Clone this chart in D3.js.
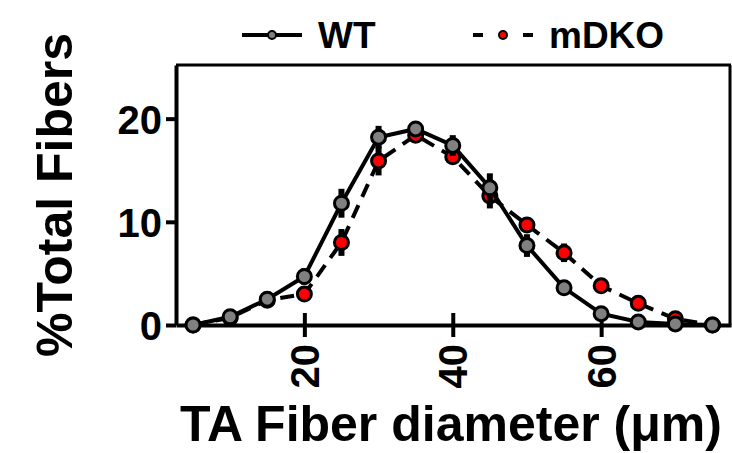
<!DOCTYPE html>
<html>
<head>
<meta charset="utf-8">
<script src="https://cdn.jsdelivr.net/npm/d3@7"></script>
<style>
  body { margin: 0; background: #fff; }
  text { font-family: "Liberation Sans", Arial, sans-serif; font-weight: bold; }
</style>
</head>
<body>
<div id="my_dataviz"></div>
<script>
// fiber diameter bins (um)
var diameters = [5, 10, 15, 20, 25, 30, 35, 40, 45, 50, 55, 60, 65, 70, 75];
// % total fibers, mean and error
var wtValues   = [0, 0.8, 2.5, 4.7, 11.8, 18.2, 19.0, 17.4, 13.3, 7.7, 3.6, 1.1, 0.3, 0.1, 0];
var wtErr      = [0, 0.1, 0.2, 0.8, 1.4, 1.1, 0.6, 1.0, 1.4, 1.1, 0.3, 0.2, 0.1, 0, 0];
var mdkoValues = [0, 0.7, 2.4, 3.0, 8.0, 15.9, 18.4, 16.3, 12.5, 9.7, 7.0, 3.8, 2.1, 0.6, 0];
var mdkoErr    = [0, 0.1, 0.2, 0.3, 1.3, 1.4, 0.6, 0.7, 1.2, 0.5, 0.9, 0.4, 0.5, 0.3, 0];
var xTicks = [20, 40, 60];
var yTicks = [0, 10, 20];

var W = 732, H = 453;
var margin = { top: 65, right: 1, bottom: 128, left: 176 },
    width = W - margin.left - margin.right,
    height = H - margin.top - margin.bottom;

var svg = d3.select("#my_dataviz")
  .append("svg")
    .attr("width", W)
    .attr("height", H)
  .append("g")
    .attr("transform", "translate(" + margin.left + "," + margin.top + ")");

var x = d3.scaleLinear().domain([2.7, 77.5]).range([0, width]);
var y = d3.scaleLinear().domain([0, 25.2]).range([height, 0]);

// frame (top and right)
svg.append("line").attr("x1", 0).attr("x2", width).attr("y1", 0).attr("y2", 0)
  .attr("stroke", "#000").attr("stroke-width", 3);
svg.append("line").attr("x1", width - 1).attr("x2", width - 1).attr("y1", 0).attr("y2", height)
  .attr("stroke", "#000").attr("stroke-width", 3);

// y axis
var yAxis = svg.append("g")
  .call(d3.axisLeft(y).tickValues(yTicks).tickSize(10).tickPadding(4).tickSizeOuter(0));
yAxis.select(".domain").attr("stroke-width", 4);
yAxis.selectAll(".tick line").attr("stroke-width", 4);
yAxis.selectAll(".tick text").attr("font-size", "40px").attr("fill", "#000").attr("dy", "0.36em");

// x axis (ticks crossing the axis line)
var xAxis = svg.append("g")
  .attr("transform", "translate(0," + height + ")")
  .call(d3.axisBottom(x).tickValues(xTicks).tickSize(12).tickSizeOuter(0).tickFormat(d3.format("d")));
xAxis.select(".domain").attr("stroke-width", 4);
xAxis.selectAll(".tick line").attr("y1", -12).attr("stroke-width", 4);
xAxis.selectAll(".tick text")
  .attr("font-size", "40px").attr("fill", "#000")
  .attr("text-anchor", "end")
  .attr("transform", "rotate(-90)")
  .attr("x", -19).attr("y", 0).attr("dy", "0.35em");

// axis titles
svg.append("text")
  .attr("transform", "rotate(-90)")
  .attr("x", -(195 - margin.top))
  .attr("y", 72 - margin.left)
  .attr("font-size", "50px")
  .style("text-anchor", "middle")
  .text("%Total Fibers");

svg.append("text")
  .attr("x", 451 - margin.left)
  .attr("y", 441 - margin.top)
  .attr("font-size", "50px")
  .style("text-anchor", "middle")
  .text("TA Fiber diameter (\u03bcm)");

var line = d3.line()
  .x(function(d) { return x(d.d); })
  .y(function(d) { return y(d.v); });

function series(vals, errs) {
  return diameters.map(function(d, i) { return { d: d, v: vals[i], e: errs[i] }; });
}

function drawSeries(data, fill, dash) {
  var g = svg.append("g");
  g.append("path")
    .datum(data)
    .attr("d", line)
    .attr("fill", "none")
    .attr("stroke", "#000")
    .attr("stroke-width", 4)
    .attr("stroke-dasharray", dash);
  g.selectAll(".err")
    .data(data.filter(function(d) { return d.e > 0; }))
    .enter().append("rect")
      .attr("x", function(d) { return x(d.d) - 3; })
      .attr("y", function(d) { return y(d.v + d.e); })
      .attr("width", 6)
      .attr("height", function(d) { return y(d.v - d.e) - y(d.v + d.e); })
      .attr("fill", "#000");
  g.selectAll("circle")
    .data(data)
    .enter().append("circle")
      .attr("cx", function(d) { return x(d.d); })
      .attr("cy", function(d) { return y(d.v); })
      .attr("r", 7)
      .attr("fill", fill)
      .attr("stroke", "#000")
      .attr("stroke-width", 3);
}

drawSeries(series(mdkoValues, mdkoErr), "#ff0000", "14,9");
drawSeries(series(wtValues, wtErr), "#808080", null);

// legend
var legend = d3.select("svg").append("g");
var items = [
  { name: "WT", fill: "#808080", dashed: false, x0: 242 },
  { name: "mDKO", fill: "#ff0000", dashed: true, x0: 473 }
];
items.forEach(function(it) {
  var segs = it.dashed ? [[0, 10], [50, 60]] : [[0, 60]];
  segs.forEach(function(s) {
    legend.append("line")
      .attr("x1", it.x0 + s[0]).attr("x2", it.x0 + s[1])
      .attr("y1", 35).attr("y2", 35)
      .attr("stroke", "#000").attr("stroke-width", 4);
  });
  legend.append("circle")
    .attr("cx", it.x0 + 30).attr("cy", 35).attr("r", 4)
    .attr("fill", it.fill).attr("stroke", "#000").attr("stroke-width", 2);
  legend.append("text")
    .attr("x", it.x0 + 76).attr("y", 48)
    .attr("font-size", "37px")
    .text(it.name);
});
</script>
</body>
</html>
